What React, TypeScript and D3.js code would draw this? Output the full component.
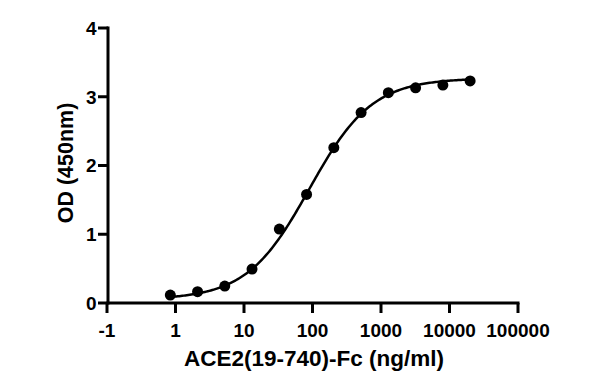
import React from "react";
import * as d3 from "d3";

const concentrations = [0.84, 2.1, 5.24, 13.1, 32.8, 81.92, 204.8, 512, 1280, 3200, 8000, 20000];
const odValues = [0.116, 0.164, 0.247, 0.494, 1.076, 1.58, 2.26, 2.77, 3.06, 3.13, 3.17, 3.23];
const xTickValues = [0.1, 1, 10, 100, 1000, 10000, 100000];
const xTickLabels = ["-1", "1", "10", "100", "1000", "10000", "100000"];
const yTickValues = [0, 1, 2, 3, 4];
// 4-parameter logistic fit parameters
const fitBottom = 0.05;
const fitTop = 3.27;
const fitEC50 = 90;
const fitHill = 0.95;

const W = 594;
const H = 382;
const FONT = "'Liberation Sans', Arial, sans-serif";

export default function App() {
  const x = d3.scaleLog().domain([0.1, 100000]).range([107, 518]);
  const y = d3.scaleLinear().domain([0, 4]).range([303, 28]);
  const fit = (c: number) => fitBottom + (fitTop - fitBottom) / (1 + Math.pow(fitEC50 / c, fitHill));
  const lo = Math.log10(concentrations[0]);
  const hi = Math.log10(concentrations[concentrations.length - 1]);
  const curvePts: [number, number][] = d3.range(0, 201).map((i) => {
    const c = Math.pow(10, lo + ((hi - lo) * i) / 200);
    return [x(c), y(fit(c))];
  });
  const line = d3.line().curve(d3.curveLinear);
  return (
    <div style={{ position: "fixed", left: 0, top: 0, width: W, height: H, background: "#fff" }}>
      <svg width={W} height={H} style={{ display: "block" }}>
        <rect width={W} height={H} fill="#fff" />
        {/* y axis */}
        <line x1={108} x2={108} y1={y(4) - 1.5} y2={y(0) + 1.5} stroke="#000" strokeWidth={3} />
        {yTickValues.map((v) => (
          <g key={v}>
            <line x1={98} x2={108} y1={y(v)} y2={y(v)} stroke="#000" strokeWidth={3} />
            <text x={96.5} y={y(v)} dy="0.36em" textAnchor="end" fontFamily={FONT} fontWeight="bold" fontSize={19}>
              {v}
            </text>
          </g>
        ))}
        {/* x axis */}
        <line x1={106.5} x2={519.5} y1={303} y2={303} stroke="#000" strokeWidth={3} />
        {xTickValues.map((v, i) => (
          <g key={v}>
            <line x1={x(v)} x2={x(v)} y1={303} y2={313} stroke="#000" strokeWidth={3} />
            <text x={x(v)} y={337} textAnchor="middle" fontFamily={FONT} fontWeight="bold" fontSize={19}>
              {xTickLabels[i]}
            </text>
          </g>
        ))}
        <text x={314} y={365.5} textAnchor="middle" fontFamily={FONT} fontWeight="bold" fontSize={22.5}>
          ACE2(19-740)-Fc (ng/ml)
        </text>
        <text
          transform={`translate(73,163) rotate(-90)`}
          textAnchor="middle"
          fontFamily={FONT}
          fontWeight="bold"
          fontSize={21.5}
        >
          OD (450nm)
        </text>
        <path d={line(curvePts) || ""} fill="none" stroke="#000" strokeWidth={2.5} />
        {concentrations.map((c, i) => (
          <circle key={c} cx={x(c)} cy={y(odValues[i])} r={5.5} fill="#000" />
        ))}
      </svg>
    </div>
  );
}
